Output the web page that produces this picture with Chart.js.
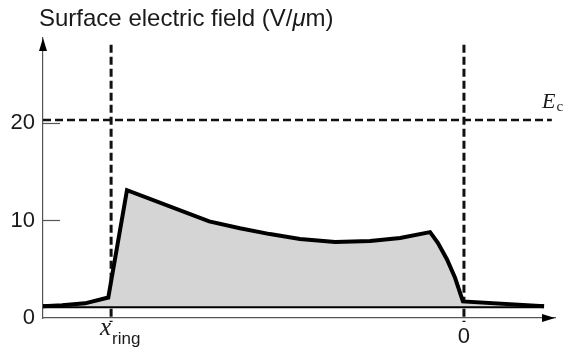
<!DOCTYPE html>
<html>
<head>
<meta charset="utf-8">
<script src="https://cdn.jsdelivr.net/npm/chart.js@4/dist/chart.umd.min.js"></script>
<style>
  html, body { margin: 0; padding: 0; background: #fff; }
  canvas { display: block; }
</style>
</head>
<body>
<canvas id="c" width="571" height="356"></canvas>
<script>
// Position along the surface, in units of the ring distance (x_ring = -1, junction edge = 0)
const positions = [-1.193, -1.139, -1.074, -1.008, -0.955, -0.722, -0.635, -0.550, -0.465, -0.365, -0.266, -0.181, -0.096, -0.074, -0.048, -0.025, -0.003, 0.227];
// Surface electric field along the surface (V/μm)
const field = [1.2, 1.3, 1.5, 2.1, 13.1, 9.9, 9.2, 8.6, 8.1, 7.8, 7.9, 8.2, 8.8, 7.7, 6.0, 4.1, 1.7, 1.2];

const baselineField = 1.2;      // floor of the profile
const baselineEnd = 0.227;
const criticalField = 20.3;     // E_c
const criticalEnd = 0.249;
const markerPositions = [-1, 0]; // x_ring and 0
const markerTop = 28.0;
const markerBottom = -0.4;

const xTickMain = ['x', '0'];
const xTickSub = ['ring', ''];
const yTicks = [0, 10, 20];

const xMin = -1.193, xMax = 0.258;
const yMin = 0, yMax = 28.7;

// title pieces: plain, italic, plain
const titleParts = ['Surface electric field (V/', '\u03bc', 'm)'];
const critMain = 'E', critSub = 'c';

const INK = '#1a1a1a';
const AXIS = '#555';
const SANS = '"Liberation Sans", Arial, sans-serif';
const SERIF = '"Liberation Serif", "Times New Roman", serif';

const profile = positions.map((x, i) => ({ x, y: field[i] }));

const datasets = [
  {
    label: 'field',
    data: profile,
    borderColor: '#000',
    borderWidth: 4,
    borderJoinStyle: 'miter',
    backgroundColor: '#d5d5d5',
    fill: { value: baselineField },
    pointRadius: 0,
    tension: 0,
    order: 0
  },
  {
    label: 'baseline',
    data: [{ x: xMin, y: baselineField }, { x: baselineEnd, y: baselineField }],
    borderColor: '#000',
    borderWidth: 4,
    pointRadius: 0,
    fill: false,
    order: 1
  },
  {
    label: 'Ec',
    data: [{ x: xMin, y: criticalField }, { x: criticalEnd, y: criticalField }],
    borderColor: '#111',
    borderWidth: 2.6,
    borderDash: [8, 4],
    pointRadius: 0,
    fill: false,
    order: 2
  }
].concat(markerPositions.map(m => ({
  label: 'marker',
  data: [{ x: m, y: markerTop }, { x: m, y: markerBottom }],
  borderColor: '#111',
  borderWidth: 3,
  borderDash: [8, 4],
  pointRadius: 0,
  fill: false,
  clip: false,
  order: 3
})));

// Axis arrows, inward y ticks, and the text labels around the plot
const decor = {
  id: 'decor',
  afterDraw(chart) {
    const { ctx, chartArea: a, scales: { x, y } } = chart;
    ctx.save();

    // inward tick marks on the y axis
    ctx.strokeStyle = AXIS;
    ctx.lineWidth = 1.2;
    yTicks.forEach(v => {
      if (v === yMin) return;
      const py = Math.round(y.getPixelForValue(v)) + 0.5;
      ctx.beginPath();
      ctx.moveTo(a.left, py);
      ctx.lineTo(a.left + 17, py);
      ctx.stroke();
    });

    // arrowheads
    ctx.fillStyle = '#000';
    ctx.beginPath();
    ctx.moveTo(a.left, a.top);
    ctx.lineTo(a.left - 4, a.top + 13);
    ctx.lineTo(a.left + 4, a.top + 13);
    ctx.closePath();
    ctx.fill();
    ctx.beginPath();
    ctx.moveTo(a.right, a.bottom);
    ctx.lineTo(a.right - 13, a.bottom - 4);
    ctx.lineTo(a.right - 13, a.bottom + 4);
    ctx.closePath();
    ctx.fill();

    ctx.fillStyle = INK;
    ctx.textBaseline = 'alphabetic';
    ctx.textAlign = 'left';

    // title
    let tx = 39;
    titleParts.forEach((part, i) => {
      ctx.font = (i === 1 ? 'italic ' : '') + '24px ' + SANS;
      ctx.fillText(part, tx, 26);
      tx += ctx.measureText(part).width;
    });

    // x tick labels
    markerPositions.forEach((m, i) => {
      const px = x.getPixelForValue(m);
      if (xTickSub[i]) {
        ctx.font = 'italic 25px ' + SERIF;
        ctx.textAlign = 'right';
        ctx.fillText(xTickMain[i], px, 335);
        ctx.font = '17px ' + SANS;
        ctx.textAlign = 'left';
        ctx.fillText(xTickSub[i], px + 1, 344);
      } else {
        ctx.font = '22px ' + SANS;
        ctx.textAlign = 'center';
        ctx.fillText(xTickMain[i], px, 343);
      }
    });

    // E_c label
    const ey = y.getPixelForValue(criticalField);
    ctx.font = 'italic 22px ' + SERIF;
    ctx.textAlign = 'left';
    ctx.fillText(critMain, 542, ey - 12);
    const ew = ctx.measureText(critMain).width;
    ctx.font = '15px ' + SERIF;
    ctx.fillText(critSub, 542 + ew + 1, ey - 9);

    ctx.restore();
  }
};

new Chart(document.getElementById('c'), {
  type: 'line',
  data: { datasets },
  options: {
    responsive: false,
    animation: false,
    devicePixelRatio: 1,
    events: [],
    layout: { padding: { left: 0, top: 38, right: 16, bottom: 0 } },
    plugins: {
      legend: { display: false },
      title: { display: false },
      tooltip: { enabled: false }
    },
    scales: {
      x: {
        type: 'linear',
        min: xMin,
        max: xMax,
        grid: { display: false, drawTicks: false },
        border: { display: true, color: AXIS, width: 1.2 },
        ticks: { display: false },
        afterFit(scale) { scale.height = 38; }
      },
      y: {
        type: 'linear',
        min: yMin,
        max: yMax,
        grid: { display: false, drawTicks: false },
        border: { display: true, color: AXIS, width: 1.2 },
        ticks: {
          padding: 8,
          color: INK,
          font: { family: SANS, size: 22 }
        },
        afterBuildTicks(scale) { scale.ticks = yTicks.map(v => ({ value: v })); },
        afterFit(scale) { scale.width = 43; }
      }
    }
  },
  plugins: [decor]
});
</script>
</body>
</html>
